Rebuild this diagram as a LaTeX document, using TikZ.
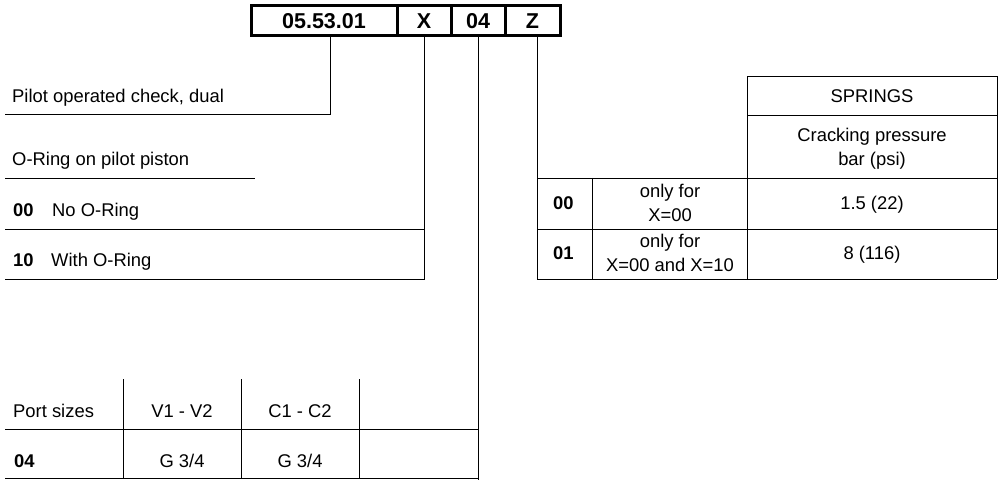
\documentclass[tikz,border=0pt]{standalone}
\usepackage{fontspec}
\setmainfont{Liberation Sans}
\begin{document}
\begin{tikzpicture}[x=1pt,y=-1pt,
  every node/.style={inner sep=0pt, font=\fontsize{18.4}{21}\selectfont},
  rule/.style={line width=0.9pt},
  codecell/.style={draw, line width=3pt, minimum height=30pt, font=\fontsize{21.5}{24}\selectfont\bfseries},
  lbl/.style={anchor=base west},
  ctr/.style={anchor=base},
  num/.style={anchor=base west, font=\fontsize{18.4}{21}\selectfont\bfseries}]
\useasboundingbox (0,0) rectangle (1004,486);

% ordering code boxes
\node[codecell, minimum width=146pt] (c1) at (324,21) {05.53.01};
\node[codecell, minimum width=54pt] (cx) at (424,21) {X};
\node[codecell, minimum width=54pt] (c04) at (478,21) {04};
\node[codecell, minimum width=55pt] (cz) at (532.5,21) {Z};

% --- first field
\coordinate (a1) at (5,114);
\draw[rule] ([xshift=6pt]c1.south) |- (a1);
\node[lbl] (t1) at (12,103) {Pilot operated check, dual};

% --- X field
\coordinate (xa) at (5,229);
\coordinate (xb) at (5,279);
\coordinate (xh) at (5,178);
\coordinate (xhe) at (255,178);
\draw[rule] (cx.south) |- (xb);
\draw[rule] (xa) -- (xa -| cx.south);
\draw[rule] (xh) -- (xhe);
\node[lbl] (t2) at (12,166) {O-Ring on pilot piston};
\node[num] (n00) at (13,217) {00};
\node[lbl] (t00) at (52,217) {No O-Ring};
\node[num] (n10) at (13,267) {10};
\node[lbl] (t10) at (51,267) {With O-Ring};

% --- port size field
\coordinate (pa) at (5,429);
\coordinate (pb) at (5,478);
\draw[rule] (c04.south) -- ++(0,442);
\draw[rule] (pa) -- (pa -| c04.south);
\draw[rule] (pb) -- (pb -| c04.south);
\foreach \xx in {123,241,359} \draw[rule] (\xx,379) -- (\xx,478);
\node[lbl] (tp) at (13,417) {Port sizes};
\node[ctr] (tv) at (182,417) {V1 - V2};
\node[ctr] (tc) at (300,417) {C1 - C2};
\node[num] (n04) at (14,467) {04};
\node[ctr] (g1) at (182,467) {G 3/4};
\node[ctr] (g2) at (300,467) {G 3/4};

% --- springs field
\coordinate (zb) at (537,279);
\draw[rule] ([xshift=4.5pt]cz.south) -- (zb);
\draw[rule] (747,279) -- (747,76) -- (997,76) -- (997,279);
\draw[rule] (747,115) -- (997,115);
\draw[rule] (537,178) -- (997,178);
\draw[rule] (537,229) -- (997,229);
\draw[rule] (zb) -- (997,279);
\draw[rule] (592,178) -- (592,279);
\node[ctr] (ts) at (872,103) {SPRINGS};
\node[ctr] (tcp) at (872,142) {Cracking pressure};
\node[ctr] (tbar) at (872,166) {bar (psi)};
\node[num] (z00) at (553,210) {00};
\node[ctr] (o1) at (670,198) {only for};
\node[ctr] (o1b) at (670,222) {X=00};
\node[ctr] (v1) at (872,210) {1.5 (22)};
\node[num] (z01) at (553,260) {01};
\node[ctr] (o2) at (670,248) {only for};
\node[ctr] (o2b) at (670,272) {X=00 and X=10};
\node[ctr] (v2) at (872,260) {8 (116)};
\end{tikzpicture}
\end{document}
